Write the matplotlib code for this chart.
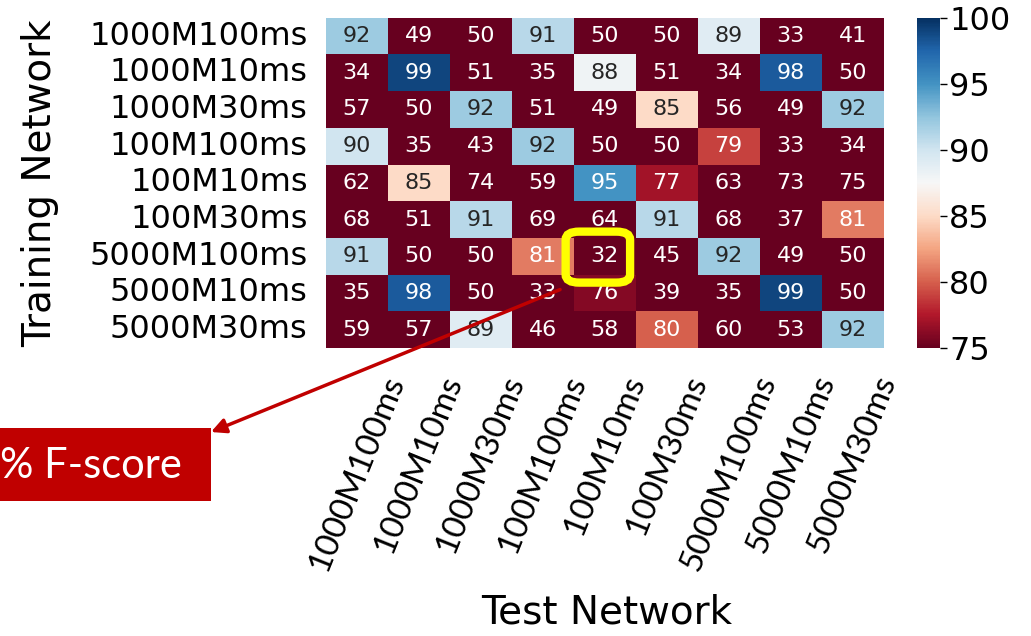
import numpy as np
import matplotlib
matplotlib.use("Agg")
import matplotlib.pyplot as plt
import seaborn as sns
from matplotlib.patches import FancyBboxPatch, Rectangle

# training network (rows) / test network (columns)
networks = ["1000M100ms", "1000M10ms", "1000M30ms", "100M100ms", "100M10ms",
            "100M30ms", "5000M100ms", "5000M10ms", "5000M30ms"]

# F-score (%) per training network, columns in the same order as networks
f_1000M100ms = [92, 49, 50, 91, 50, 50, 89, 33, 41]
f_1000M10ms = [34, 99, 51, 35, 88, 51, 34, 98, 50]
f_1000M30ms = [57, 50, 92, 51, 49, 85, 56, 49, 92]
f_100M100ms = [90, 35, 43, 92, 50, 50, 79, 33, 34]
f_100M10ms = [62, 85, 74, 59, 95, 77, 63, 73, 75]
f_100M30ms = [68, 51, 91, 69, 64, 91, 68, 37, 81]
f_5000M100ms = [91, 50, 50, 81, 32, 45, 92, 49, 50]
f_5000M10ms = [35, 98, 50, 33, 76, 39, 35, 99, 50]
f_5000M30ms = [59, 57, 89, 46, 58, 80, 60, 53, 92]

cbar_ticks = [75, 80, 85, 90, 95, 100]
highlight = ("5000M100ms", "100M10ms")   # (training, test) cell in yellow
callout_text = "% F-score"

fscore = np.array([f_1000M100ms, f_1000M10ms, f_1000M30ms, f_100M100ms,
                   f_100M10ms, f_100M30ms, f_5000M100ms, f_5000M10ms,
                   f_5000M30ms])

fig = plt.figure(figsize=(10.31, 6.36), dpi=100)
ax = fig.add_axes([0.316, 0.453, 0.541, 0.519])
cax = fig.add_axes([0.889, 0.453, 0.0223, 0.519])

sns.heatmap(fscore, ax=ax, cbar_ax=cax, cmap="RdBu", vmin=75, vmax=100,
            annot=True, fmt="d", annot_kws={"size": 16},
            xticklabels=networks, yticklabels=networks)

ax.tick_params(axis="y", length=0, pad=13, labelsize=23)
ax.tick_params(axis="x", length=0, pad=17)
ax.set_yticklabels(networks, rotation=0, fontsize=23)
ax.set_xticklabels(networks, rotation=68, fontsize=24, family="Lato")

ax.set_ylabel("Training Network", fontsize=28)
ax.set_xlabel("Test Network", fontsize=28)
ax.yaxis.set_label_coords(-0.478, 0.5)
ax.xaxis.set_label_coords(0.503, -0.745)

cax.set_yticks(cbar_ticks)
cax.tick_params(labelsize=23, length=5, width=1, pad=2)

# yellow highlight around the picked cell
r = networks.index(highlight[0])
c = networks.index(highlight[1])
box = FancyBboxPatch((c - 0.13, r - 0.17), 1.04, 1.39,
                     boxstyle="round,pad=0,rounding_size=0.22",
                     fill=False, ec="#FFFF00", lw=6, clip_on=False, zorder=5)
ax.add_patch(box)

# red callout box, cut off at the left edge
fig.patches.append(Rectangle((0, 135 / 636), 211 / 1031, 73 / 636,
                             transform=fig.transFigure, facecolor="#C00000",
                             edgecolor="none"))
fig.text(0.5 / 1031, (636 - 466) / 636, callout_text, color="white",
         fontsize=30, family="Lato", ha="left", va="center")

ax.annotate("", xy=(211, 204), xycoords="figure pixels",
            xytext=(c - 0.22, r + 1.41), textcoords="data",
            arrowprops=dict(arrowstyle="-|>", color="#C00000", lw=2.5,
                            mutation_scale=22, shrinkA=0, shrinkB=0),
            annotation_clip=False)

fig.savefig("out.png", dpi=100)
